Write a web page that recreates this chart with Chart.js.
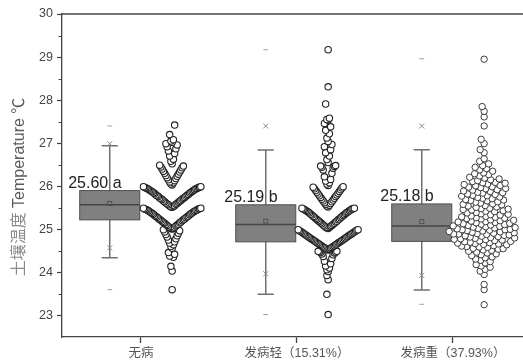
<!DOCTYPE html>
<html>
<head>
<meta charset="utf-8">
<script src="https://cdn.jsdelivr.net/npm/chart.js@4.4.1/dist/chart.umd.min.js"></script>
<style>
html, body { margin: 0; padding: 0; background: #fff; }
#wrap { width: 523px; height: 363px; }
</style>
</head>
<body>
<div id="wrap"><canvas id="c" width="523" height="363"></canvas></div>
<script>
// categories and labels
const categories = ['无病', '发病轻（15.31%）', '发病重（37.93%）'];
const meanLabels = ['25.60 a', '25.19 b', '25.18 b'];
const yTicks = [23, 24, 25, 26, 27, 28, 29, 30];
const yMinorTicks = [23.5, 24.5, 25.5, 26.5, 27.5, 28.5, 29.5];

// box statistics
const boxQ1 = [25.22, 24.71, 24.72];
const boxMedian = [25.57, 25.11, 25.08];
const boxQ3 = [25.90, 25.57, 25.59];
const whiskerLow = [24.34, 23.49, 23.59];
const whiskerHigh = [26.94, 26.84, 26.85];
const boxMean = [25.60, 25.19, 25.18];
const pct1 = [24.57, 23.97, 23.93];
const pct99 = [26.99, 27.40, 27.40];
const valueMin = [23.60, 23.02, 23.26];
const valueMax = [27.40, 29.17, 28.96];

// soil temperatures (estimated from the point clouds)
const tempNone = [
  23.60,
  24.03, 24.14, 24.35, 24.38, 24.42, 24.46,
  24.56, 24.60, 24.64, 24.68, 24.71, 24.75, 24.78, 24.82, 24.85, 24.88, 24.91, 24.94, 24.97, 24.99,
  25.01, 25.02, 25.02, 25.04, 25.05, 25.06, 25.08, 25.09, 25.10, 25.11, 25.12, 25.14, 25.15, 25.16, 25.17, 25.18,
  25.20, 25.21, 25.22, 25.23, 25.24, 25.25, 25.27, 25.28, 25.29, 25.30, 25.31, 25.32, 25.34, 25.35, 25.36, 25.37,
  25.38, 25.39, 25.40, 25.41, 25.42, 25.43, 25.44, 25.45, 25.45, 25.46, 25.47, 25.47, 25.48, 25.49, 25.49,
  25.51, 25.52, 25.53, 25.54, 25.55, 25.57, 25.58, 25.59, 25.60, 25.61, 25.63, 25.64, 25.65, 25.66, 25.67, 25.69,
  25.70, 25.71, 25.72, 25.73, 25.74, 25.76, 25.77, 25.78, 25.79, 25.80, 25.81, 25.83, 25.84, 25.85, 25.86, 25.87,
  25.88, 25.89, 25.90, 25.91, 25.92, 25.93, 25.94, 25.95, 25.95, 25.96, 25.97, 25.97, 25.98, 25.99, 25.99,
  26.03, 26.05, 26.08, 26.10, 26.13, 26.15, 26.18, 26.20, 26.23, 26.25, 26.28, 26.30, 26.33, 26.35, 26.38, 26.40,
  26.43, 26.45, 26.47, 26.49,
  26.52, 26.58, 26.63, 26.70, 26.76, 26.82, 26.87, 26.92, 26.96, 26.99,
  27.02, 27.05, 27.08, 27.20, 27.42
];
const tempLight = [
  23.02, 23.49, 23.83, 23.93,
  24.02, 24.06, 24.10, 24.15, 24.20, 24.26, 24.32, 24.37, 24.41, 24.43, 24.45, 24.46, 24.47, 24.48, 24.49, 24.49,
  24.52, 24.53, 24.54, 24.55, 24.56, 24.57, 24.58, 24.59, 24.60, 24.61, 24.62, 24.63, 24.64, 24.65, 24.66, 24.67,
  24.68, 24.69, 24.70, 24.71, 24.72, 24.73, 24.74, 24.75, 24.76, 24.77, 24.78, 24.79, 24.80, 24.81, 24.82, 24.83,
  24.84, 24.85, 24.86, 24.87, 24.88, 24.89, 24.90, 24.91, 24.92, 24.93, 24.94, 24.95, 24.96, 24.97, 24.98, 24.99, 24.99,
  25.02, 25.03, 25.04, 25.05, 25.07, 25.08, 25.09, 25.10, 25.12, 25.13, 25.14, 25.15, 25.17, 25.18, 25.19, 25.20,
  25.22, 25.23, 25.24, 25.25, 25.27, 25.28, 25.29, 25.30, 25.32, 25.33, 25.34, 25.35, 25.37, 25.38, 25.39, 25.40,
  25.41, 25.42, 25.43, 25.44, 25.45, 25.46, 25.47, 25.47, 25.48, 25.49, 25.49,
  25.52, 25.54, 25.56, 25.58, 25.60, 25.62, 25.64, 25.66, 25.68, 25.70, 25.72, 25.74, 25.76, 25.78, 25.80, 25.82,
  25.84, 25.86, 25.88, 25.90, 25.92, 25.94, 25.96, 25.98, 25.99,
  26.02, 26.05, 26.08, 26.12, 26.16, 26.22, 26.30, 26.38, 26.42, 26.44, 26.46, 26.47, 26.48,
  26.55, 26.62, 26.70, 26.78, 26.85, 26.92, 26.97,
  27.04, 27.12, 27.22, 27.30, 27.38, 27.46,
  27.53, 27.55, 27.58, 27.91, 28.31, 29.17
];
const tempHeavy = [
  23.25, 23.60, 23.72, 23.95, 24.03, 24.07,
  24.12, 24.15, 24.18, 24.22, 24.25, 24.28, 24.31, 24.34, 24.36, 24.39,
  24.41, 24.43, 24.45, 24.47, 24.49, 24.51, 24.52, 24.54, 24.55, 24.56, 24.58, 24.59,
  24.60, 24.61, 24.62, 24.64, 24.65, 24.66, 24.67, 24.68, 24.69,
  24.70, 24.71, 24.72, 24.73, 24.74, 24.75, 24.76, 24.77, 24.78, 24.79,
  24.80, 24.81, 24.82, 24.83, 24.84, 24.85, 24.86, 24.87, 24.88, 24.89, 24.89,
  24.90, 24.91, 24.92, 24.93, 24.94, 24.95, 24.96, 24.97, 24.98, 24.99, 24.99,
  25.00, 25.01, 25.02, 25.03, 25.04, 25.05, 25.06, 25.07, 25.08, 25.09,
  25.10, 25.11, 25.12, 25.13, 25.14, 25.15, 25.16, 25.17, 25.18, 25.19,
  25.20, 25.21, 25.22, 25.24, 25.25, 25.26, 25.27, 25.28, 25.29,
  25.30, 25.31, 25.33, 25.34, 25.35, 25.36, 25.38, 25.39,
  25.41, 25.42, 25.43, 25.45, 25.46, 25.47, 25.48, 25.49,
  25.51, 25.52, 25.54, 25.55, 25.57, 25.58, 25.59,
  25.61, 25.63, 25.64, 25.66, 25.67, 25.68, 25.69,
  25.71, 25.72, 25.74, 25.75, 25.77, 25.78, 25.79,
  25.81, 25.82, 25.84, 25.85, 25.86, 25.88, 25.89,
  25.91, 25.92, 25.94, 25.95, 25.97, 25.98, 25.99,
  26.01, 26.02, 26.04, 26.05, 26.07, 26.08, 26.09,
  26.11, 26.13, 26.15, 26.17, 26.19,
  26.21, 26.24, 26.27, 26.29, 26.31, 26.35, 26.38,
  26.41, 26.44, 26.48, 26.52, 26.58, 26.64,
  26.78, 26.85, 26.99, 27.09, 27.40, 27.61, 27.74, 27.85, 28.95
];

const boxShift = -0.2;     // box left of the category tick
const pointShift = 0.2;    // points right of it
const boxWidth = 0.385;
const binStep = 0.008;

// Origin-style bin layout: inside each 0.5 bin, lowest value in the middle, higher ones alternate outward
function binPoints(values, center) {
  const bins = {};
  values.forEach(v => {
    const b = Math.floor(v / 0.5 + 1e-9);
    (bins[b] = bins[b] || []).push(v);
  });
  const pts = [];
  Object.keys(bins).sort((a, b) => a - b).forEach(b => {
    bins[b].sort((p, q) => p - q).forEach((v, i) => {
      pts.push({ x: center + (i % 2 ? -1 : 1) * Math.ceil(i / 2) * binStep, y: v });
    });
  });
  return pts;
}

// simple beeswarm (in pixels, overlap allowed up to distance d)
function swarmPoints(values, center, pxX, pxY, d) {
  const sorted = values.slice().sort((a, b) => a - b);
  const placed = [];
  sorted.forEach(v => {
    const y = v * pxY;
    let best = 0;
    for (let k = 0; k < 300; k++) {
      const cand = (k % 2 ? -1 : 1) * Math.ceil(k / 2) * 0.5;
      const ok = placed.every(p => {
        const dx = p.x - cand, dy = p.y - y;
        return dx * dx + dy * dy >= d * d;
      });
      if (ok) { best = cand; break; }
    }
    placed.push({ x: best, y: y });
  });
  return placed.map((p, i) => ({ x: center + p.x / pxX, y: sorted[i] }));
}

const boxPlugin = {
  id: 'boxes',
  beforeDatasetsDraw(chart) {
    const { ctx, scales: { x, y } } = chart;
    const half = (x.getPixelForValue(boxWidth) - x.getPixelForValue(0)) / 2;
    ctx.save();
    categories.forEach((c, i) => {
      const cx = x.getPixelForValue(i + boxShift);
      const yq1 = y.getPixelForValue(boxQ1[i]);
      const yq3 = y.getPixelForValue(boxQ3[i]);
      // whisker
      ctx.strokeStyle = '#707070';
      ctx.lineWidth = 1.5;
      ctx.beginPath();
      ctx.moveTo(cx, y.getPixelForValue(whiskerLow[i]));
      ctx.lineTo(cx, y.getPixelForValue(whiskerHigh[i]));
      [whiskerLow[i], whiskerHigh[i]].forEach(w => {
        const wy = y.getPixelForValue(w);
        ctx.moveTo(cx - half * 0.27, wy);
        ctx.lineTo(cx + half * 0.27, wy);
      });
      ctx.stroke();
      // box
      ctx.fillStyle = '#808080';
      ctx.fillRect(cx - half, yq3, half * 2, yq1 - yq3);
      ctx.strokeStyle = '#505050';
      ctx.lineWidth = 1;
      ctx.strokeRect(cx - half, yq3, half * 2, yq1 - yq3);
      // median
      ctx.strokeStyle = '#454545';
      ctx.lineWidth = 1.5;
      ctx.beginPath();
      const ym = y.getPixelForValue(boxMedian[i]);
      ctx.moveTo(cx - half, ym);
      ctx.lineTo(cx + half, ym);
      ctx.stroke();
      // mean
      ctx.strokeStyle = '#505050';
      ctx.lineWidth = 1;
      const ymean = y.getPixelForValue(boxMean[i]);
      ctx.strokeRect(cx - 2, ymean - 2, 4, 4);
      // 1% / 99%
      ctx.strokeStyle = '#8a8a8a';
      [pct1[i], pct99[i]].forEach(p => {
        const py = y.getPixelForValue(p);
        ctx.beginPath();
        ctx.moveTo(cx - 2.5, py - 2.5); ctx.lineTo(cx + 2.5, py + 2.5);
        ctx.moveTo(cx - 2.5, py + 2.5); ctx.lineTo(cx + 2.5, py - 2.5);
        ctx.stroke();
      });
      // min / max
      ctx.strokeStyle = '#a0a0a0';
      [valueMin[i], valueMax[i]].forEach(p => {
        const py = y.getPixelForValue(p);
        ctx.beginPath();
        ctx.moveTo(cx - 2.5, py); ctx.lineTo(cx + 2.5, py);
        ctx.stroke();
      });
      // mean label
      ctx.fillStyle = '#222';
      ctx.font = "16px 'Liberation Sans', Arial, sans-serif";
      ctx.textAlign = 'center';
      ctx.textBaseline = 'alphabetic';
      ctx.fillText(meanLabels[i], x.getPixelForValue(i + boxShift - 0.095), yq3 - 3);
    });
    ctx.restore();
  },
  afterDraw(chart) {
    const { ctx, chartArea, scales: { y } } = chart;
    ctx.save();
    // top frame line
    ctx.strokeStyle = '#444';
    ctx.lineWidth = 1.3;
    ctx.beginPath();
    ctx.moveTo(chartArea.left, chartArea.top);
    ctx.lineTo(chartArea.right, chartArea.top);
    ctx.stroke();
    // minor ticks
    ctx.lineWidth = 1;
    ctx.beginPath();
    yMinorTicks.forEach(t => {
      const py = Math.round(y.getPixelForValue(t)) + 0.5;
      ctx.moveTo(chartArea.left - 3.5, py);
      ctx.lineTo(chartArea.left, py);
    });
    ctx.stroke();
    // y title
    const p1 = '土壤温度 ', p2 = 'Temperature ℃';
    ctx.translate(20, 187);
    ctx.rotate(-Math.PI / 2);
    ctx.font = "16px 'Liberation Sans', 'Noto Sans CJK SC', sans-serif";
    ctx.textBaseline = 'middle';
    ctx.textAlign = 'left';
    const w1 = ctx.measureText(p1).width, w2 = ctx.measureText(p2).width;
    let sx = -(w1 + w2) / 2;
    ctx.fillStyle = '#8a8a8a';
    ctx.fillText(p1, sx, 0);
    ctx.fillStyle = '#5a5a5a';
    ctx.fillText(p2, sx + w1, 0);
    ctx.restore();
  }
};

const pointStyle = {
  pointRadius: 3.2,
  pointBorderWidth: 1.1,
  pointBorderColor: '#222',
  pointBackgroundColor: '#fff',
  showLine: false
};

const chart = new Chart(document.getElementById('c'), {
  type: 'scatter',
  data: {
    datasets: [
      Object.assign({ data: binPoints(tempNone, 0 + pointShift) }, pointStyle),
      Object.assign({ data: binPoints(tempLight, 1 + pointShift) }, pointStyle),
      Object.assign({ data: tempHeavy.map(v => ({ x: 2 + pointShift, y: v })) }, pointStyle, { pointBorderColor: '#3a3a3a', pointBorderWidth: 1 })
    ]
  },
  options: {
    responsive: false,
    animation: false,
    events: [],
    layout: { autoPadding: false, padding: { top: 14, left: 0, right: 0, bottom: 0 } },
    plugins: { legend: { display: false }, tooltip: { enabled: false } },
    scales: {
      x: {
        type: 'linear',
        min: -0.506,
        max: 2.449,
        afterBuildTicks: s => { s.ticks = categories.map((c, i) => ({ value: i })); },
        afterFit: s => { s.height = 26; },
        ticks: {
          callback: v => categories[v],
          color: '#555',
          padding: 3,
          maxRotation: 0,
          autoSkip: false,
          font: { family: "'Liberation Sans', 'Noto Sans CJK SC', sans-serif", size: 12.5 }
        },
        grid: { display: true, drawOnChartArea: false, drawTicks: true, tickLength: 6, tickColor: '#444', tickWidth: 1.3, color: '#444' },
        border: { display: true, color: '#444', width: 1.3 }
      },
      y: {
        min: 22.5,
        max: 30,
        afterBuildTicks: s => { s.ticks = yTicks.map(v => ({ value: v })); },
        afterFit: s => { s.width = 62; },
        ticks: {
          color: '#444',
          padding: 4,
          font: { family: "'Liberation Sans', Arial, sans-serif", size: 12.5 }
        },
        grid: { display: true, drawOnChartArea: false, drawTicks: true, tickLength: 5, tickColor: '#444', tickWidth: 1.2, color: '#444' },
        border: { display: true, color: '#444', width: 1.3 }
      }
    }
  },
  plugins: [boxPlugin]
});

// second pass: lay out the third group once the scales are known
const pxX = chart.scales.x.getPixelForValue(1) - chart.scales.x.getPixelForValue(0);
const pxY = chart.scales.y.getPixelForValue(0) - chart.scales.y.getPixelForValue(1);
chart.data.datasets[2].data = swarmPoints(tempHeavy, 2 + pointShift, pxX, pxY, 5.0);
chart.update('none');
</script>
</body>
</html>
